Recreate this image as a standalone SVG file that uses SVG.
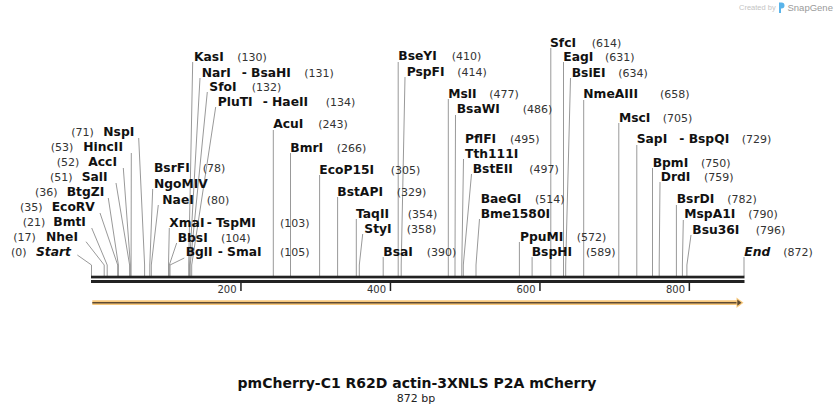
<svg xmlns="http://www.w3.org/2000/svg" width="836" height="415" viewBox="0 0 836 415">
<style>
.b{font-family:"DejaVu Sans",Verdana,sans-serif;font-weight:bold;font-size:12.3px;fill:#111}
.bi{font-family:"DejaVu Sans",Verdana,sans-serif;font-weight:bold;font-style:italic;font-size:12.3px;fill:#111}
.r{font-family:"DejaVu Sans",Verdana,sans-serif;font-size:11px;fill:#333}
.t{font-family:"DejaVu Sans",Verdana,sans-serif;font-size:10px;fill:#333;text-anchor:end}
.l{fill:none;stroke:#999;stroke-width:1}
.title{font-family:"DejaVu Sans",Verdana,sans-serif;font-weight:bold;font-size:14px;fill:#111;text-anchor:middle}
.sub{font-family:"DejaVu Sans",Verdana,sans-serif;font-size:11px;fill:#222;text-anchor:middle}
</style>
<rect width="836" height="415" fill="#fff"/>
<g id="logo">
<text x="739" y="10" style="font-family:'Liberation Sans',Arial,sans-serif;font-size:7.5px;fill:#c4c4c4">Created by</text>
<path d="M779,2.5 h2.5 a3,3 0 0 1 0,6 h-0.5 v4.5 h-2 z" fill="#5ab4ea"/>
<text x="787.5" y="11" style="font-family:'Liberation Sans',Arial,sans-serif;font-size:9.5px;fill:#9a9a9a">SnapGene</text>
</g>
<g id="connectors">
<polyline class="l" points="77.3,255 91.5,265 91.5,276"/>
<polyline class="l" points="86,241.7 104.2,265 104.2,276"/>
<polyline class="l" points="91.7,228 107.2,265 107.2,276"/>
<polyline class="l" points="100,213 117.7,265 117.7,276"/>
<polyline class="l" points="108.3,198 118.4,265 118.4,276"/>
<polyline class="l" points="116,183 129.6,265 129.6,276"/>
<polyline class="l" points="123.3,168 130.4,265 130.4,276"/>
<polyline class="l" points="131.3,153 131.1,265 131.1,276"/>
<polyline class="l" points="138.7,138 144.6,265 144.6,276"/>
<polyline class="l" points="152.7,189 149.8,265 149.8,276"/>
<polyline class="l" points="158.3,205 151.3,265 151.3,276"/>
<polyline class="l" points="169.3,228 168.5,265 168.5,276"/>
<polyline class="l" points="176.7,243 169.3,265 169.3,276"/>
<polyline class="l" points="184.3,258 170,265 170,276"/>
<polyline class="l" points="192.7,62 188.7,265 188.7,276"/>
<polyline class="l" points="200,78 189.5,265 189.5,276"/>
<polyline class="l" points="207.3,92 190.2,265 190.2,276"/>
<polyline class="l" points="215.7,107 191.7,265 191.7,276"/>
<polyline class="l" points="273.3,130 273.3,276"/>
<polyline class="l" points="290.5,153 290.5,276"/>
<polyline class="l" points="319.6,175 319.6,276"/>
<polyline class="l" points="337.6,197 337.6,276"/>
<polyline class="l" points="356.3,219 356.3,276"/>
<polyline class="l" points="362.7,234 359.3,265 359.3,276"/>
<polyline class="l" points="383.2,257 383.2,276"/>
<polyline class="l" points="398.2,62 398.2,276"/>
<polyline class="l" points="405,77 401.2,265 401.2,276"/>
<polyline class="l" points="448.3,99 448.3,276"/>
<polyline class="l" points="455.5,115 455,265 455,276"/>
<polyline class="l" points="463.5,159 461.8,265 461.8,276"/>
<polyline class="l" points="471.5,174 463.3,265 463.3,276"/>
<polyline class="l" points="479.5,219 476,265 476,276"/>
<polyline class="l" points="519.4,242 519.4,276"/>
<polyline class="l" points="532.1,257 532.1,276"/>
<polyline class="l" points="550.8,48 550.8,276"/>
<polyline class="l" points="563.5,62 563.5,276"/>
<polyline class="l" points="570.5,78 565.7,265 565.7,276"/>
<polyline class="l" points="583.7,100 583.7,276"/>
<polyline class="l" points="618.8,123 618.8,276"/>
<polyline class="l" points="636.8,145 636.8,276"/>
<polyline class="l" points="652.5,168 652.5,276"/>
<polyline class="l" points="660,182 659.2,265 659.2,276"/>
<polyline class="l" points="676.4,205 676.4,276"/>
<polyline class="l" points="683.3,220 682.4,265 682.4,276"/>
<polyline class="l" points="691,235 686.9,265 686.9,276"/>
<polyline class="l" points="744,257 744,276"/>
</g>
<g id="ruler">
<rect x="91" y="275.7" width="653.5" height="2.7" fill="#222"/>
<rect x="91" y="280" width="653.5" height="3" fill="#222"/>
<rect x="240.2" y="283" width="1.5" height="8" fill="#222"/>
<rect x="389.7" y="283" width="1.5" height="8" fill="#222"/>
<rect x="539.2" y="283" width="1.5" height="8" fill="#222"/>
<rect x="688.6" y="283" width="1.5" height="8" fill="#222"/>
<text class="t" x="236.5" y="293">200</text>
<text class="t" x="386" y="293">400</text>
<text class="t" x="535.5" y="293">600</text>
<text class="t" x="685" y="293">800</text>
</g>
<g id="feature">
<line x1="92.3" y1="302.7" x2="738" y2="302.7" stroke="#f8c97c" stroke-width="4.8"/>
<line x1="92.3" y1="302.7" x2="738" y2="302.7" stroke="#5e4a32" stroke-width="1.4"/>
<polygon points="736.5,297.4 743.5,302.7 736.5,308" fill="#f8c97c"/>
<polygon points="737.3,299.6 741.5,302.7 737.3,305.8" fill="#5e4a32"/>
</g>
<g id="lbl-start"><text class="r" x="11" y="256">(0)</text><text class="bi" x="36" y="256">Start</text></g>
<g id="lbl-nhei"><text class="r" x="13.3" y="241">(17)</text><text class="b" x="46" y="241">NheI</text></g>
<g id="lbl-bmti"><text class="r" x="22.7" y="226">(21)</text><text class="b" x="53.3" y="226">BmtI</text></g>
<g id="lbl-ecorv"><text class="r" x="20" y="211">(35)</text><text class="b" x="51.7" y="211">EcoRV</text></g>
<g id="lbl-btgzi"><text class="r" x="35" y="196">(36)</text><text class="b" x="66.7" y="196">BtgZI</text></g>
<g id="lbl-sali"><text class="r" x="50" y="181">(51)</text><text class="b" x="81.7" y="181">SalI</text></g>
<g id="lbl-acci"><text class="r" x="56.7" y="166">(52)</text><text class="b" x="88.3" y="166">AccI</text></g>
<g id="lbl-hincii"><text class="r" x="50.7" y="151">(53)</text><text class="b" x="83.3" y="151">HincII</text></g>
<g id="lbl-nspi"><text class="r" x="71.3" y="136">(71)</text><text class="b" x="103.3" y="136">NspI</text></g>
<g id="lbl-bsrfi"><text class="b" x="154" y="172">BsrFI</text><text class="r" x="202.7" y="172">(78)</text></g>
<g id="lbl-ngomiv"><text class="b" x="154" y="187.6">NgoMIV</text></g>
<g id="lbl-naei"><text class="b" x="162.3" y="203.6">NaeI</text><text class="r" x="206.7" y="203.6">(80)</text></g>
<g id="lbl-xmai"><text class="b" x="169.3" y="226.6">XmaI</text><text class="b" x="206.7" y="226.6">- TspMI</text><text class="r" x="280" y="226.6">(103)</text></g>
<g id="lbl-bbsi"><text class="b" x="177.7" y="242">BbsI</text><text class="r" x="221" y="242">(104)</text></g>
<g id="lbl-bgli"><text class="b" x="185.7" y="256">BglI</text><text class="b" x="217.7" y="256">- SmaI</text><text class="r" x="280" y="256">(105)</text></g>
<g id="lbl-kasi"><text class="b" x="194" y="61">KasI</text><text class="r" x="237.3" y="61">(130)</text></g>
<g id="lbl-nari"><text class="b" x="201.7" y="76.6">NarI</text><text class="b" x="241.7" y="76.6">- BsaHI</text><text class="r" x="304.3" y="76.6">(131)</text></g>
<g id="lbl-sfoi"><text class="b" x="209.3" y="91">SfoI</text><text class="r" x="251.7" y="91">(132)</text></g>
<g id="lbl-pluti"><text class="b" x="217.7" y="106">PluTI</text><text class="b" x="262.7" y="106">- HaeII</text><text class="r" x="325.7" y="106">(134)</text></g>
<g id="lbl-acui"><text class="b" x="273.3" y="128.3">AcuI</text><text class="r" x="318.3" y="128.3">(243)</text></g>
<g id="lbl-bmri"><text class="b" x="290.3" y="151.6">BmrI</text><text class="r" x="336.7" y="151.6">(266)</text></g>
<g id="lbl-ecop15i"><text class="b" x="319.3" y="173.6">EcoP15I</text><text class="r" x="390.7" y="173.6">(305)</text></g>
<g id="lbl-bstapi"><text class="b" x="337.3" y="196">BstAPI</text><text class="r" x="396.7" y="196">(329)</text></g>
<g id="lbl-taqii"><text class="b" x="356" y="217.6">TaqII</text><text class="r" x="407.7" y="217.6">(354)</text></g>
<g id="lbl-styi"><text class="b" x="364.3" y="232.6">StyI</text><text class="r" x="406.7" y="232.6">(358)</text></g>
<g id="lbl-bsai"><text class="b" x="383.3" y="256">BsaI</text><text class="r" x="426.7" y="256">(390)</text></g>
<g id="lbl-bseyi"><text class="b" x="398.3" y="60.3">BseYI</text><text class="r" x="451.7" y="60.3">(410)</text></g>
<g id="lbl-pspfi"><text class="b" x="406.7" y="76">PspFI</text><text class="r" x="457.3" y="76">(414)</text></g>
<g id="lbl-msli"><text class="b" x="448.3" y="97.6">MslI</text><text class="r" x="489.3" y="97.6">(477)</text></g>
<g id="lbl-bsawi"><text class="b" x="456.7" y="113.3">BsaWI</text><text class="r" x="522.7" y="113.3">(486)</text></g>
<g id="lbl-pflfi"><text class="b" x="465" y="142.6">PflFI</text><text class="r" x="510" y="142.6">(495)</text></g>
<g id="lbl-tth111i"><text class="b" x="465" y="157.6">Tth111I</text></g>
<g id="lbl-bsteii"><text class="b" x="472.7" y="172.6">BstEII</text><text class="r" x="529.3" y="172.6">(497)</text></g>
<g id="lbl-baegi"><text class="b" x="480.7" y="203.3">BaeGI</text><text class="r" x="535" y="203.3">(514)</text></g>
<g id="lbl-bme1580i"><text class="b" x="480.7" y="217.6">Bme1580I</text></g>
<g id="lbl-ppumi"><text class="b" x="520" y="241">PpuMI</text><text class="r" x="576.7" y="241">(572)</text></g>
<g id="lbl-bsphi"><text class="b" x="531.7" y="256">BspHI</text><text class="r" x="586" y="256">(589)</text></g>
<g id="lbl-sfci"><text class="b" x="550" y="47">SfcI</text><text class="r" x="591.7" y="47">(614)</text></g>
<g id="lbl-eagi"><text class="b" x="563.3" y="61">EagI</text><text class="r" x="605" y="61">(631)</text></g>
<g id="lbl-bsiei"><text class="b" x="571.7" y="76.6">BsiEI</text><text class="r" x="618.3" y="76.6">(634)</text></g>
<g id="lbl-nmeaiii"><text class="b" x="583.3" y="98.3">NmeAIII</text><text class="r" x="660" y="98.3">(658)</text></g>
<g id="lbl-msci"><text class="b" x="619" y="121.6">MscI</text><text class="r" x="662.7" y="121.6">(705)</text></g>
<g id="lbl-sapi"><text class="b" x="636.7" y="143.3">SapI</text><text class="b" x="679.3" y="143.3">- BspQI</text><text class="r" x="741.7" y="143.3">(729)</text></g>
<g id="lbl-bpmi"><text class="b" x="652.7" y="166.6">BpmI</text><text class="r" x="701" y="166.6">(750)</text></g>
<g id="lbl-drdi"><text class="b" x="660.7" y="181">DrdI</text><text class="r" x="704" y="181">(759)</text></g>
<g id="lbl-bsrdi"><text class="b" x="676.7" y="203.3">BsrDI</text><text class="r" x="727.3" y="203.3">(782)</text></g>
<g id="lbl-mspa1i"><text class="b" x="684.3" y="218.3">MspA1I</text><text class="r" x="748.3" y="218.3">(790)</text></g>
<g id="lbl-bsu36i"><text class="b" x="692.3" y="233.6">Bsu36I</text><text class="r" x="755.7" y="233.6">(796)</text></g>
<g id="lbl-end"><text class="bi" x="744.3" y="256">End</text><text class="r" x="783.3" y="256">(872)</text></g>
<g id="title">
<text class="title" x="417" y="388">pmCherry-C1 R62D actin-3XNLS P2A mCherry</text>
<text class="sub" x="416" y="402">872 bp</text>
</g>
</svg>
